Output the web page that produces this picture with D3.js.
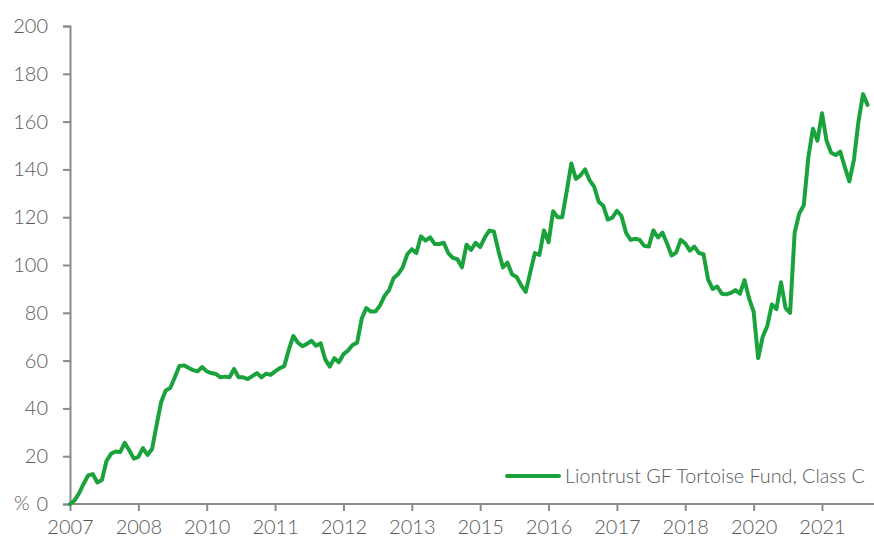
<!DOCTYPE html>
<html>
<head>
<meta charset="utf-8">
<script src="https://cdn.jsdelivr.net/npm/d3@7"></script>
<style>
  html, body { margin: 0; padding: 0; background: #fff; }
  svg { display: block; }
  text { font-family: Lato, "Open Sans", "DejaVu Sans", sans-serif; font-weight: 300; fill: #595959; }
</style>
</head>
<body>
<svg id="chart" width="874" height="539"></svg>
<script>
// Monthly cumulative performance (%) starting month 0 (launch, mid-2007)
const fundValues = [
  0, 1.5, 4.5, 8.5, 12, 12.5, 9, 10, 18, 21,
  22, 21.7, 25.6, 22.5, 19, 19.7, 23.4, 20.5, 23, 33,
  42.7, 47.5, 48.5, 53, 57.7, 58, 57, 56, 55.5, 57.3,
  55.5, 54.8, 54.4, 53, 53.3, 53, 56.5, 53, 53, 52.3,
  53.5, 54.8, 53, 54.5, 54, 55.5, 56.8, 57.7, 64.5, 70.3,
  67.5, 66, 67, 68.3, 66.2, 67.2, 60.5, 57.5, 61, 59.3,
  62.7, 64.2, 66.5, 67.5, 77.5, 82, 80.5, 80.5, 83, 87,
  89.5, 94.5, 96.2, 99, 104.5, 106.6, 105, 112, 110.2, 111.6,
  108.8, 108.8, 109.3, 105, 103, 102.4, 99, 108.5, 106.3, 109.3,
  107.5, 111.5, 114.4, 114, 106, 99, 101, 96, 95, 91.5,
  88.8, 97, 105, 104.2, 114.5, 109.5, 122.5, 120, 120, 131,
  142.5, 136, 137.5, 140, 135.5, 132.8, 126.5, 124.8, 119, 119.8,
  122.7, 120.5, 113.5, 110.5, 111, 110.5, 108, 107.7, 114.5, 111.5,
  113.5, 109, 104, 105.2, 110.5, 109, 106, 107.7, 105, 104.5,
  94, 90, 91, 88, 87.7, 88.3, 89.5, 88, 93.7, 86,
  80.5, 61, 70, 74.5, 83.5, 81.5, 92.8, 82, 80, 113.5,
  121.5, 125, 145, 157, 152, 163.5, 152, 147, 146, 147.4,
  141, 135, 144, 160, 171.5, 167
];
const seriesName = "Liontrust GF Tortoise Fund, Class C";
const xTickMonths = [0, 15, 30, 45, 60, 75, 90, 105, 120, 135, 150, 165];
const xTickLabels = ["2007", "2008", "2010", "2011", "2012", "2013", "2015", "2016", "2017", "2018", "2020", "2021"];
const yTicks = [0, 20, 40, 60, 80, 100, 120, 140, 160, 180, 200];

const svg = d3.select("#chart");
const axisColor = "#8a8a8a";
const lineColor = "#1aa33c";

const x = d3.scaleLinear().domain([0, 165]).range([70, 822]);
const y = d3.scaleLinear().domain([0, 200]).range([504, 26]);

// Y axis
const yAxis = d3.axisLeft(y).tickValues(yTicks).tickSize(7).tickPadding(15)
  .tickFormat(d => String(d));
const gy = svg.append("g").attr("transform", `translate(${x(0)},0)`).call(yAxis);
gy.select(".domain").attr("stroke", axisColor).attr("stroke-width", 2);
gy.selectAll(".tick line").attr("stroke", axisColor).attr("stroke-width", 2);
gy.selectAll(".tick text").attr("font-size", 20).attr("fill", "#595959")
  .style("font-family", 'Lato, "Open Sans", sans-serif');
svg.append("text").attr("x", 14).attr("y", y(0)).attr("dy", "0.32em")
  .attr("font-size", 20).text("%");

// X axis
const xAxis = d3.axisBottom(x).tickValues(xTickMonths).tickSize(7).tickPadding(9)
  .tickFormat((d, i) => xTickLabels[i]);
const gx = svg.append("g").attr("transform", `translate(0,${y(0)})`).call(xAxis);
gx.select(".domain").remove();
gx.append("line").attr("x1", x(0)).attr("x2", 874).attr("y1", 0).attr("y2", 0)
  .attr("stroke", axisColor).attr("stroke-width", 2);
gx.selectAll(".tick line").attr("stroke", axisColor).attr("stroke-width", 2);
gx.selectAll(".tick text").attr("font-size", 20).attr("fill", "#595959")
  .style("font-family", 'Lato, "Open Sans", sans-serif');

// Line
const line = d3.line().x((d, i) => x(i)).y(d => y(d));
svg.append("path").datum(fundValues).attr("d", line)
  .attr("fill", "none").attr("stroke", lineColor).attr("stroke-width", 4)
  .attr("stroke-linejoin", "round").attr("stroke-linecap", "round");

// Legend
svg.append("line").attr("x1", 507).attr("x2", 559).attr("y1", 476).attr("y2", 476)
  .attr("stroke", lineColor).attr("stroke-width", 4).attr("stroke-linecap", "round");
const legendText = svg.append("text").attr("x", 565).attr("y", 483).attr("font-size", 20)
  .text(seriesName);
const natural = legendText.node().getComputedTextLength();
const fitSize = Math.min(21, 20 * 300 / natural);
legendText.attr("font-size", fitSize.toFixed(2));
</script>
</body>
</html>
